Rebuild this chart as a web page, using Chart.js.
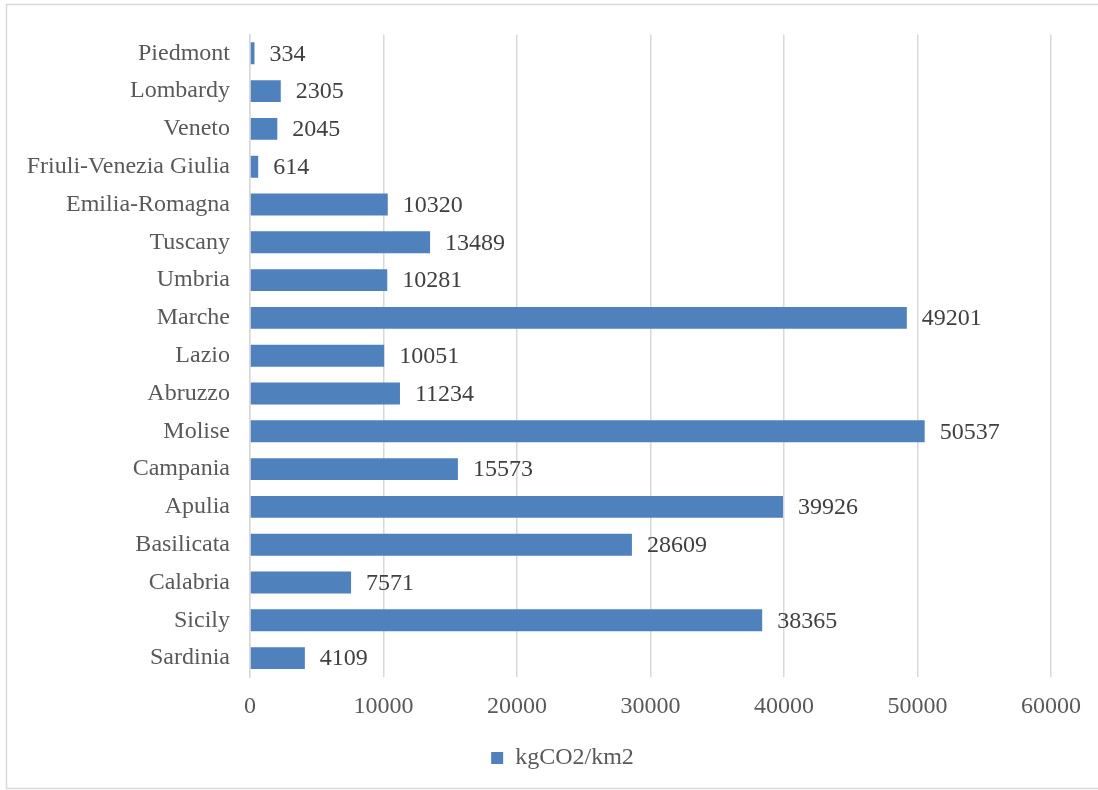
<!DOCTYPE html>
<html>
<head>
<meta charset="utf-8">
<script src="https://cdn.jsdelivr.net/npm/chart.js@4"></script>
<style>
  html, body { margin: 0; padding: 0; background: #fff; }
  #wrap { width: 1098px; height: 790px; position: relative; }
</style>
</head>
<body>
<div id="wrap"><canvas id="co2Chart" width="1098" height="790"></canvas></div>
<script>
// data
const regions = ["Piedmont", "Lombardy", "Veneto", "Friuli-Venezia Giulia", "Emilia-Romagna", "Tuscany",
  "Umbria", "Marche", "Lazio", "Abruzzo", "Molise", "Campania", "Apulia", "Basilicata", "Calabria",
  "Sicily", "Sardinia"];
const co2Values = [334, 2305, 2045, 614, 10320, 13489, 10281, 49201, 10051, 11234, 50537, 15573,
  39926, 28609, 7571, 38365, 4109];
const seriesName = "kgCO2/km2";
const xTicks = [0, 10000, 20000, 30000, 40000, 50000, 60000];

const FONT = "'Liberation Serif', 'Times New Roman', serif";

// value labels next to bar ends + outer frame
const barLabels = {
  id: "barLabels",
  afterLayout(chart) {
    // legend sits a bit right of the canvas centre in the original
    if (chart.legend) {
      chart.legend.left += 37;
      chart.legend.right += 37;
    }
  },
  afterDatasetsDraw(chart) {
    const ctx = chart.ctx;
    const meta = chart.getDatasetMeta(0);
    ctx.save();
    ctx.font = "24px " + FONT;
    ctx.fillStyle = "#404040";
    ctx.textBaseline = "middle";
    ctx.textAlign = "left";
    meta.data.forEach((bar, i) => {
      ctx.fillText(String(co2Values[i]), bar.x + 15, bar.y + 1);
    });
    ctx.restore();
  },
  beforeDraw(chart) {
    const ctx = chart.ctx;
    ctx.save();
    ctx.strokeStyle = "#d9d9d9";
    ctx.lineWidth = 1.5;
    ctx.strokeRect(6.5, 4.5, 1100, 784);
    ctx.restore();
  }
};

new Chart(document.getElementById("co2Chart"), {
  type: "bar",
  data: {
    labels: regions,
    datasets: [{
      label: seriesName,
      data: co2Values,
      backgroundColor: "#4f81bd",
      categoryPercentage: 1,
      barPercentage: 0.58
    }]
  },
  options: {
    indexAxis: "y",
    responsive: false,
    animation: false,
    layout: { padding: { left: 0, right: 47, top: 33, bottom: 10 } },
    scales: {
      x: {
        min: 0,
        max: 60000,
        afterBuildTicks: (scale) => { scale.ticks = xTicks.map(v => ({ value: v })); },
        grid: { color: "#d9d9d9", lineWidth: 1.5, drawTicks: false },
        border: { display: false },
        ticks: {
          color: "#595959", font: { family: FONT, size: 24 }, padding: 15,
          callback: (v) => String(v)
        },
        afterFit: (scale) => { scale.height = 59; }
      },
      y: {
        grid: { display: false, drawTicks: false },
        border: { display: true, color: "#d9d9d9", width: 1.5 },
        ticks: { color: "#595959", font: { family: FONT, size: 24 }, padding: 20, autoSkip: false },
        afterFit: (scale) => { scale.width = 250; }
      }
    },
    plugins: {
      legend: {
        position: "bottom",
        labels: {
          color: "#595959",
          font: { family: FONT, size: 24 },
          boxWidth: 12,
          boxHeight: 12,
          padding: 10
        }
      },
      tooltip: { enabled: false }
    }
  },
  plugins: [barLabels]
});
</script>
</body>
</html>
